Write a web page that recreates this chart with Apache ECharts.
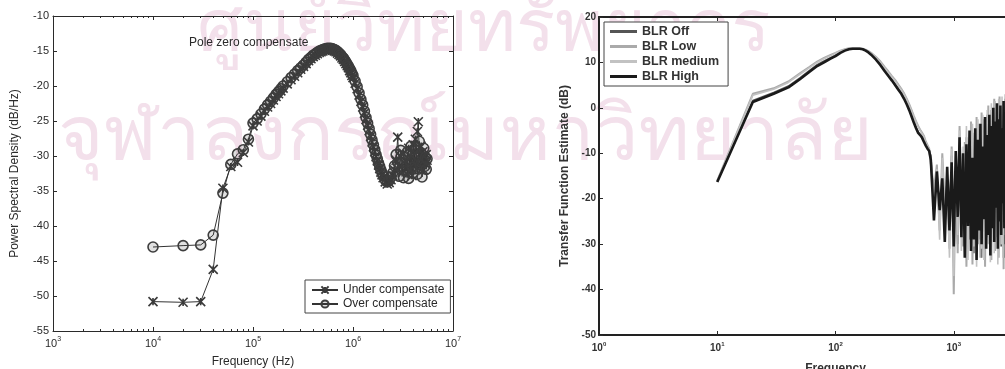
<!DOCTYPE html>
<html>
<head>
<meta charset="utf-8">
<script src="https://cdn.jsdelivr.net/npm/echarts@6/dist/echarts.min.js"></script>
<style>
  html, body { margin: 0; padding: 0; background: #fff; }
  #chart { width: 1005px; height: 369px; }
</style>
</head>
<body>
<div id="chart"></div>
<script>
// ---- left panel: pole zero compensate (Hz, dB/Hz)
const freqL = [
  1e4, 2e4, 3e4, 4e4, 5e4, 6e4, 7e4, 8e4, 9e4,
  1e5, 1.1e5, 1.2e5, 1.3e5, 1.4e5, 1.5e5, 1.6e5, 1.7e5, 1.8e5, 1.9e5,
  2e5, 2.2e5, 2.4e5, 2.6e5, 2.8e5, 3e5, 3.2e5, 3.4e5, 3.6e5, 3.8e5, 4e5, 4.2e5, 4.4e5, 4.6e5, 4.8e5,
  5e5, 5.25e5, 5.5e5, 5.75e5, 6e5, 6.25e5, 6.5e5, 6.75e5, 7e5, 7.25e5,
  7.5e5, 7.75e5, 8e5, 8.25e5, 8.5e5, 8.75e5, 9e5, 9.25e5, 9.5e5, 9.75e5,
  1e6, 1.05e6, 1.1e6, 1.15e6, 1.2e6, 1.25e6, 1.3e6, 1.35e6, 1.4e6, 1.45e6,
  1.5e6, 1.55e6, 1.6e6, 1.65e6, 1.7e6, 1.75e6, 1.8e6, 1.85e6, 1.9e6, 1.95e6,
  2e6, 2.1e6, 2.2e6, 2.3e6, 2.4e6, 2.5e6, 2.6e6, 2.7e6, 2.8e6, 2.9e6,
  3e6, 3.1e6, 3.2e6, 3.3e6, 3.4e6, 3.5e6, 3.6e6, 3.7e6, 3.8e6, 3.9e6,
  4e6, 4.1e6, 4.2e6, 4.3e6, 4.4e6, 4.5e6, 4.6e6, 4.7e6, 4.8e6, 4.9e6,
  5e6, 5.1e6, 5.2e6, 5.3e6, 5.4e6, 5.5e6
]
const underComp = [
  -50.8, -50.9, -50.8, -46.2, -34.6, -31.5, -30.9, -29.5, -28.0,
  -25.7, -25.0, -24.3, -23.6, -23.0, -22.5, -22.0, -21.5, -21.1, -20.7,
  -20.3, -19.7, -19.1, -18.6, -18.1, -17.6, -17.2, -16.8, -16.4, -16.1, -15.8, -15.6, -15.4, -15.2, -15.1,
  -15.0, -14.9, -14.8, -14.8, -14.8, -14.9, -15.0, -15.1, -15.3, -15.5,
  -15.7, -16.0, -16.2, -16.5, -16.8, -17.1, -17.4, -17.8, -18.1, -18.5,
  -18.8, -19.6, -20.4, -21.3, -22.2, -23.0, -23.9, -24.8, -25.6, -26.4,
  -27.2, -28.0, -28.7, -29.4, -30.1, -30.7, -31.3, -31.8, -32.3, -32.7,
  -33.1, -33.7, -34.0, -33.8, -33.4, -32.8, -32.0, -30.6, -27.3, -31.5,
  -30.0, -32.4, -29.6, -31.8, -30.8, -32.6, -28.9, -31.5, -30.2, -32.8,
  -28.4, -31.2, -27.6, -30.6, -26.5, -25.1, -29.8, -31.4, -28.6, -30.9,
  -29.4, -32.0, -30.3, -31.1, -29.8, -30.6
]
const overComp = [
  -43.0, -42.8, -42.7, -41.3, -35.3, -31.2, -29.7, -29.1, -27.6,
  -25.3, -24.7, -24.0, -23.3, -22.7, -22.2, -21.7, -21.2, -20.8, -20.4,
  -20.0, -19.4, -18.8, -18.3, -17.8, -17.4, -17.0, -16.6, -16.2, -15.9, -15.6, -15.4, -15.2, -15.0, -14.9,
  -14.8, -14.7, -14.6, -14.6, -14.6, -14.7, -14.8, -14.9, -15.1, -15.3,
  -15.5, -15.8, -16.0, -16.3, -16.6, -16.9, -17.2, -17.5, -17.8, -18.2,
  -18.5, -19.3, -20.1, -21.0, -21.9, -22.7, -23.6, -24.5, -25.3, -26.1,
  -26.9, -27.7, -28.4, -29.1, -29.8, -30.4, -31.0, -31.5, -32.0, -32.4,
  -32.8, -33.4, -33.7, -33.5, -33.0, -32.4, -31.4, -29.8, -30.9, -32.9,
  -29.2, -31.0, -33.1, -30.1, -32.0, -29.4, -33.2, -30.7, -28.6, -31.6,
  -32.4, -29.0, -31.8, -28.8, -32.6, -30.0, -27.9, -31.3, -29.6, -33.0,
  -30.8, -28.9, -31.5, -30.2, -31.9, -30.4
]

// ---- right panel: transfer function estimate (Hz, dB)
const freqR = [
  10, 20, 30, 40, 50, 60, 70, 80, 90, 100,
  110, 120, 130, 140, 150, 160, 170, 180, 190, 200,
  220, 240, 260, 280, 300, 320, 340, 360, 380, 400,
  420, 440, 460, 480, 500, 520, 540, 560, 580, 600, 620,
  640, 680, 720, 760, 800, 840, 880, 920, 960, 1000,
  1040, 1080, 1120, 1160, 1200, 1240, 1280, 1320, 1360, 1400,
  1440, 1480, 1520, 1560, 1600, 1640, 1680, 1720, 1760, 1800,
  1840, 1880, 1920, 1960, 2000, 2040, 2080, 2120, 2160, 2200,
  2240, 2280, 2320, 2360, 2400, 2440, 2480, 2520, 2560, 2600,
  2640, 2680, 2720, 2760, 2800
]
const blrOff = [
  -16.2, 1.6, 3.4, 4.8, 6.6, 8.2, 9.5, 10.3, 11.0, 11.6,
  12.2, 12.7, 12.9, 13.0, 13.0, 13.0, 12.9, 12.6, 12.3, 11.8,
  10.8, 9.6, 8.3, 7.2, 6.2, 5.2, 4.2, 3.3, 2.2, 1.0,
  -0.3, -1.7, -3.1, -4.3, -5.3, -5.9, -6.4, -7.3, -8.1, -8.8, -9.4,
  -10.5, -21.0, -16.0, -25.5, -12.5, -27.0, -15.0, -23.5, -10.5, -28.5,
  -13.0, -30.0, -8.0, -25.0, -12.5, -29.5, -6.5, -31.0, -9.5, -24.0,
  -5.5, -32.0, -10.0, -27.5, -3.5, -29.0, -8.0, -33.0, -2.5, -26.0,
  -6.5, -30.5, -1.5, -28.5, -5.0, -31.5, -0.5, -24.0, -3.5, -29.0,
  0.5, -26.5, -2.0, -32.0, 1.0, -23.5, -4.0, -30.5, 0.0, -27.5,
  -1.5, -33.0, 2.0, -25.5, -0.5
]
const blrLow = [
  -16.0, 3.1, 4.3, 5.8, 7.6, 9.0, 10.2, 11.0, 11.6, 12.1,
  12.6, 12.9, 13.1, 13.2, 13.2, 13.1, 13.0, 12.8, 12.5, 12.1,
  11.2, 10.2, 9.0, 8.0, 7.0, 6.1, 5.1, 4.2, 3.2, 2.0,
  0.8, -0.5, -1.8, -3.0, -4.0, -4.8, -5.5, -6.2, -7.4, -8.2, -9.0,
  -9.0, -18.0, -12.5, -27.0, -10.0, -22.0, -17.5, -31.0, -8.5, -41.0,
  -14.0, -32.0, -4.0, -22.0, -30.5, -7.5, -35.0, -11.0, -29.0, -3.0,
  -34.5, -9.0, -24.0, -2.0, -30.0, -6.0, -33.0, -1.0, -27.5, -5.5,
  -35.0, -3.0, -23.0, 0.5, -29.5, -7.0, -33.5, -2.0, -25.0, 2.0,
  -31.5, -4.0, -27.0, 0.0, -33.0, 2.5, -24.5, -6.5, -30.0, 1.0,
  -35.5, -2.0, -27.0, 3.0, -31.0
]
const blrMedium = [
  -16.1, 2.8, 4.1, 5.6, 7.4, 8.8, 10.0, 10.8, 11.4, 12.0,
  12.5, 12.8, 13.0, 13.1, 13.1, 13.0, 12.9, 12.7, 12.4, 12.0,
  11.0, 10.0, 8.8, 7.8, 6.8, 5.9, 4.9, 4.0, 3.0, 1.8,
  0.6, -0.7, -2.0, -3.2, -4.2, -5.0, -5.7, -6.4, -7.6, -8.4, -9.2,
  -9.5, -20.0, -13.5, -29.0, -11.0, -24.5, -16.0, -33.0, -9.0, -37.0,
  -12.5, -28.0, -5.0, -31.5, -8.5, -26.0, -4.0, -33.5, -10.5, -27.0,
  -3.5, -30.5, -7.5, -35.0, -2.5, -25.5, -6.0, -31.0, -1.5, -33.5,
  -5.0, -27.0, -0.5, -30.0, -4.5, -34.0, 1.0, -26.5, -3.0, -32.0,
  1.5, -28.5, -2.5, -34.5, 2.0, -25.0, -5.0, -30.0, 2.5, -33.0,
  -1.0, -28.0, 3.0, -31.5, -0.5
]
const blrHigh = [
  -16.3, 1.3, 3.1, 4.5, 6.3, 7.9, 9.2, 10.0, 10.8, 11.4,
  12.1, 12.6, 12.9, 13.0, 13.0, 13.0, 12.9, 12.6, 12.2, 11.7,
  10.6, 9.4, 8.1, 7.0, 6.0, 5.0, 4.0, 3.1, 2.0, 0.8,
  -0.5, -1.9, -3.3, -4.5, -5.5, -6.0, -6.6, -7.5, -8.3, -9.0, -9.5,
  -11.5, -24.8, -14.0, -22.5, -15.5, -29.5, -13.0, -27.0, -12.0, -30.5,
  -9.5, -24.0, -6.5, -28.5, -10.0, -33.0, -8.0, -26.0, -5.0, -31.5,
  -11.0, -29.0, -4.5, -33.5, -7.0, -27.0, -3.5, -30.0, -8.5, -24.5,
  -2.0, -31.0, -6.0, -28.0, -1.5, -32.5, -4.0, -26.5, 0.0, -29.5,
  -3.0, -22.0, 1.0, -31.0, -2.5, -25.0, 0.5, -28.0, -4.5, -21.0,
  1.5, -26.5, -1.0, -30.0, 0.5
]

const ink = '#2a2a2a'
const font = 'Liberation Sans, Arial, sans-serif'
const thaiFont = 'Loma, Garuda, Kinnari, "Noto Sans Thai Looped", "Noto Sans Thai", "Noto Sans", sans-serif'
const pair = (xs, ys) => xs.map((x, i) => [x, ys[i]])
const supLabel = v => '{b|10}{s|' + Math.round(Math.log10(v)) + '}'

const chart = echarts.init(document.getElementById('chart'))

function frameAxis(gridIndex, pos, extra) {
  return Object.assign({
    gridIndex: gridIndex,
    position: pos,
    axisLine: { onZero: false, lineStyle: { color: ink, width: 1 } },
    axisTick: { inside: true, length: 4, lineStyle: { color: ink } },
    axisLabel: { show: false },
    splitLine: { show: false }
  }, extra)
}

const thickLine = { onZero: false, lineStyle: { color: '#222', width: 2 } }

chart.setOption({
  animation: false,
  backgroundColor: '#fff',
  graphic: [
    { type: 'text', z: -10, left: 197, top: -2,
      style: { text: 'ศูนย์วิทยทรัพยากร', fontSize: 73, fill: '#f3e0eb', fontFamily: thaiFont } },
    { type: 'text', z: -10, left: 58, top: 104,
      style: { text: 'จุฬาลงกรณ์มหาวิทยาลัย', fontSize: 78, fill: '#f3e0eb', fontFamily: thaiFont } }
  ],
  title: {
    text: 'Pole zero compensate',
    left: 184, top: 32,
    textStyle: { fontFamily: font, fontSize: 12, fontWeight: 'normal', color: ink }
  },
  legend: [
    {
      data: ['Under compensate', 'Over compensate'],
      orient: 'vertical', left: 305, top: 280,
      itemWidth: 26, itemHeight: 9, itemGap: 2, padding: [4, 6, 3, 6],
      borderColor: '#444', borderWidth: 1, backgroundColor: '#fff',
      textStyle: { fontFamily: font, fontSize: 12, color: ink }
    },
    {
      data: ['BLR Off', 'BLR Low', 'BLR medium', 'BLR High'],
      orient: 'vertical', left: 604, top: 22, icon: 'rect',
      itemWidth: 27, itemHeight: 3, itemGap: 2, padding: [3, 9, 3, 6],
      borderColor: '#444', borderWidth: 1, backgroundColor: '#fff',
      textStyle: { fontFamily: font, fontSize: 12.5, fontWeight: 'bold', color: '#333' }
    }
  ],
  grid: [
    { left: 53, top: 16, width: 400, height: 315, outerBoundsMode: 'none' },
    { left: 599, top: 17, width: 473, height: 318, outerBoundsMode: 'none' }
  ],
  xAxis: [
    frameAxis(0, 'bottom', {
      type: 'log', logBase: 10, min: 1e3, max: 1e7,
      name: 'Frequency (Hz)', nameLocation: 'middle', nameGap: 25,
      nameTextStyle: { fontFamily: font, fontSize: 12, color: ink },
      minorTick: { show: true, splitNumber: 9, length: 2, lineStyle: { color: ink } },
      axisLabel: {
        show: true, margin: 5, formatter: supLabel,
        rich: {
          b: { fontFamily: font, fontSize: 11, color: ink },
          s: { fontFamily: font, fontSize: 7, color: ink, padding: [0, 0, 8, 0] }
        }
      }
    }),
    frameAxis(0, 'top', {
      type: 'log', logBase: 10, min: 1e3, max: 1e7,
      minorTick: { show: true, splitNumber: 9, length: 2, lineStyle: { color: ink } }
    }),
    frameAxis(1, 'bottom', {
      type: 'log', logBase: 10, min: 1, max: 1e4,
      axisLine: thickLine,
      name: 'Frequency', nameLocation: 'middle', nameGap: 28,
      nameTextStyle: { fontFamily: font, fontSize: 12, fontWeight: 'bold', color: '#333' },
      axisLabel: {
        show: true, margin: 6, formatter: supLabel,
        rich: {
          b: { fontFamily: font, fontSize: 10, fontWeight: 'bold', color: '#333' },
          s: { fontFamily: font, fontSize: 6, fontWeight: 'bold', color: '#333', padding: [0, 0, 8, 0] }
        }
      }
    }),
    frameAxis(1, 'top', { type: 'log', logBase: 10, min: 1, max: 1e4, axisLine: thickLine })
  ],
  yAxis: [
    frameAxis(0, 'left', {
      type: 'value', min: -55, max: -10, interval: 5,
      name: 'Power Spectral Density (dB/Hz)', nameLocation: 'middle', nameGap: 32,
      nameTextStyle: { fontFamily: font, fontSize: 12, color: ink },
      axisLabel: { show: true, margin: 4, fontFamily: font, fontSize: 11, color: ink }
    }),
    frameAxis(0, 'right', { type: 'value', min: -55, max: -10, interval: 5 }),
    frameAxis(1, 'left', {
      type: 'value', min: -50, max: 20, interval: 10,
      axisLine: thickLine,
      name: 'Transfer Function Estimate (dB)', nameLocation: 'middle', nameGap: 28,
      nameTextStyle: { fontFamily: font, fontSize: 12, fontWeight: 'bold', color: '#333' },
      axisLabel: { show: true, margin: 3, fontFamily: font, fontSize: 10, fontWeight: 'bold', color: '#333' }
    }),
    frameAxis(1, 'right', { type: 'value', min: -50, max: 20, interval: 10, axisLine: thickLine })
  ],
  series: [
    {
      name: 'Under compensate', type: 'line', xAxisIndex: 0, yAxisIndex: 0,
      data: pair(freqL, underComp),
      symbol: 'path://M0,0L10,10M10,0L0,10M5,1L5,9', symbolSize: 9, showAllSymbol: true,
      itemStyle: { color: '#3a3a3a', borderColor: '#3a3a3a', borderWidth: 1.6 },
      lineStyle: { color: '#333', width: 1 }
    },
    {
      name: 'Over compensate', type: 'line', xAxisIndex: 0, yAxisIndex: 0,
      data: pair(freqL, overComp),
      symbol: 'circle', symbolSize: 10, showAllSymbol: true,
      itemStyle: { color: 'rgba(60,60,60,0.16)', borderColor: '#3d3d3d', borderWidth: 1.6 },
      lineStyle: { color: '#333', width: 1 }
    },
    {
      name: 'BLR Off', type: 'line', xAxisIndex: 2, yAxisIndex: 2,
      data: pair(freqR, blrOff), showSymbol: false,
      itemStyle: { color: '#555' }, lineStyle: { color: '#555', width: 1.6 }
    },
    {
      name: 'BLR Low', type: 'line', xAxisIndex: 2, yAxisIndex: 2,
      data: pair(freqR, blrLow), showSymbol: false,
      itemStyle: { color: '#aaa' }, lineStyle: { color: '#aaa', width: 2 }
    },
    {
      name: 'BLR medium', type: 'line', xAxisIndex: 2, yAxisIndex: 2,
      data: pair(freqR, blrMedium), showSymbol: false,
      itemStyle: { color: '#c2c2c2' }, lineStyle: { color: '#c2c2c2', width: 1.6 }
    },
    {
      name: 'BLR High', type: 'line', xAxisIndex: 2, yAxisIndex: 2,
      data: pair(freqR, blrHigh), showSymbol: false,
      itemStyle: { color: '#1a1a1a' }, lineStyle: { color: '#1a1a1a', width: 2.6 }
    }
  ]
})
</script>
</body>
</html>
